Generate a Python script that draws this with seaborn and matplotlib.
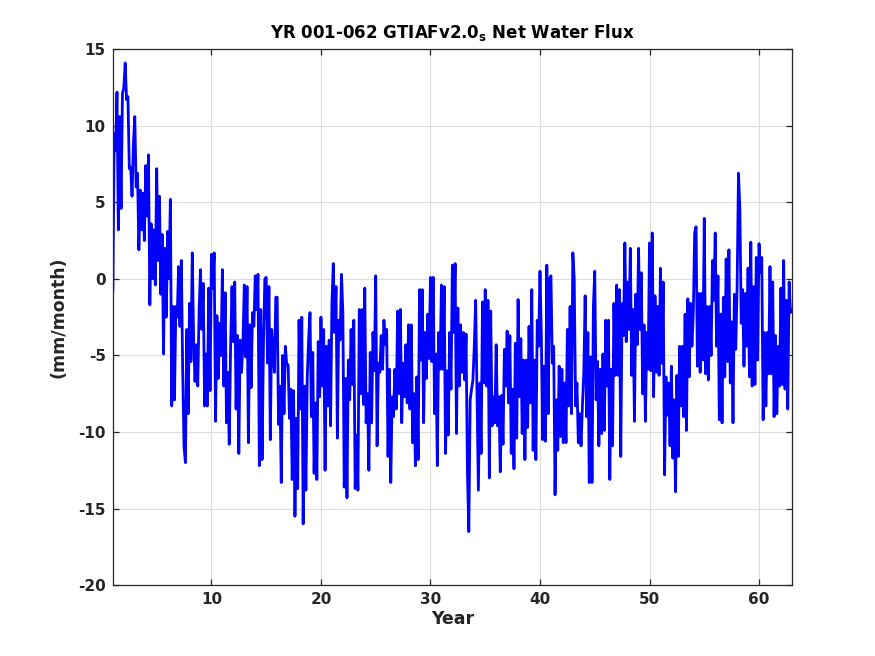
import numpy as np
import pandas as pd
import matplotlib
matplotlib.use("Agg")
import matplotlib.pyplot as plt
import seaborn as sns

# values, 8 samples per year, year 1 .. 63
flux_01_10 = [
    -0.8, 9.5, 8.4, 12.2, 3.2, 10.6, 4.6, 12.1,
    12.5, 14.1, 11.7, 11.9, 7.2, 7.3, 5.4, 8.8,
    10.6, 6.0, 6.9, 1.9, 5.8, 3.2, 5.6, 2.5,
    7.4, 4.1, 8.1, -1.7, 3.6, 0.0, 3.2, -0.4,
    7.2, 1.2, 5.4, -1.0, 2.9, -4.9, 2.0, -2.5,
    3.1, 0.0, 5.2, -8.3, -1.8, -7.9, -1.8, -2.5,
    0.8, -3.1, 1.2, -6.0, -11.0, -12.0, -3.3, -8.8,
    -1.6, -5.4, 1.7, -4.0, -6.7, -4.3, -7.0, -2.0,
    0.6, -3.3, -0.3, -8.3, -4.9, -8.3, -0.6, -7.3,
]
flux_10_20 = [
    1.6, -0.6, 1.7, -9.3, -2.4, -6.5, -2.9, -5.0,
    0.6, -7.0, -0.9, -9.4, -6.1, -10.8, -4.4, -0.5,
    -4.1, -0.2, -8.5, -3.7, -11.4, -4.0, -6.1, -4.2,
    -0.4, -5.1, -0.5, -10.7, -3.0, -7.1, -2.2, -3.1,
    0.2, -2.0, 0.3, -12.2, -2.0, -11.8, -4.2, 0.0,
    0.1, -5.5, -0.5, -10.5, -3.3, -4.8, -6.1, -1.2,
    -1.2, -9.5, -7.0, -13.3, -5.0, -8.8, -4.4, -5.6,
    -5.6, -9.1, -7.2, -13.1, -7.3, -15.5, -9.1, -13.7,
    -2.7, -8.5, -2.5, -16.0, -7.0, -13.8, -6.4, -3.9,
    -2.2, -9.0, -4.8, -12.7, -8.1, -13.1, -4.1, -7.7,
]
flux_20_30 = [
    -2.5, -7.0, -3.3, -12.5, -4.4, -8.3, -4.0, -9.6,
    -1.7, 1.0, -3.5, -0.5, -10.4, -2.7, -4.0, 0.3,
    -2.2, -13.6, -6.5, -14.3, -5.3, -7.9, -3.3, -6.9,
    -2.7, -13.7, -10.2, -13.8, -2.0, -7.5, -2.0, -8.2,
    -0.6, -9.4, -7.5, -12.5, -4.8, -9.4, -3.5, -6.0,
    0.2, -10.9, -5.5, -6.1, -3.7, -5.9, -2.7, -4.3,
    -3.3, -11.6, -5.9, -13.3, -7.7, -9.0, -5.9, -8.5,
    -2.1, -7.5, -2.0, -9.4, -5.5, -7.7, -4.3, -8.1,
    -3.0, -8.5, -3.0, -10.7, -7.5, -12.2, -6.4, -11.8,
    -0.7, -5.3, -0.7, -9.4, -3.5, -6.5, -2.3, -5.2,
]
flux_30_40 = [
    0.1, -5.4, 0.1, -8.8, -4.9, -12.2, -3.5, -5.9,
    -0.4, -5.9, -0.5, -11.4, -6.0, -10.2, -3.5, -7.2,
    0.9, -3.5, 1.0, -10.1, -1.9, -7.0, -3.0, -6.1,
    -3.5, -6.6, -3.6, -12.6, -16.5, -7.9, -7.2, -6.6,
    -4.4, -1.4, -7.5, -13.8, -6.8, -11.4, -1.5, -6.8,
    -0.7, -7.0, -1.4, -13.0, -2.1, -9.6, -7.7, -9.4,
    -4.3, -9.6, -7.7, -12.6, -7.6, -10.8, -4.6, -7.0,
    -3.4, -8.1, -3.7, -11.4, -7.2, -12.4, -4.2, -10.4,
    -1.35, -7.7, -3.9, -10.1, -5.3, -11.8, -5.3, -9.7,
    -3.1, -8.1, -0.7, -11.2, -5.3, -11.8, -2.7, -4.4,
]
flux_40_50 = [
    0.5, -3.7, -10.5, -5.7, -10.6, 0.9, -8.8, 0.0,
    0.2, -5.5, -4.4, -14.1, -7.9, -11.2, -5.7, -10.3,
    -5.9, -10.7, -6.8, -10.7, -3.3, -8.3, -1.8, -8.8,
    1.7, 0.0, -8.3, -6.8, -10.7, -8.8, -10.9, -8.3,
    -6.1, -1.1, -9.0, -3.5, -13.3, -5.1, -13.3, -1.8,
    0.5, -7.9, -5.4, -10.9, -5.9, -10.1, -4.9, -9.9,
    -2.7, -7.0, -2.7, -13.1, -5.9, -10.9, -1.6, -6.3,
    -0.4, -6.3, -0.7, -11.6, -1.6, -3.7, 2.35, -4.1,
    -0.2, -3.3, 2.0, -6.3, -2.0, -9.3, -1.0, -4.3,
    2.0, -3.3, 0.4, -7.5, -3.0, -9.3, -3.5, -5.9,
]
flux_50_63 = [
    2.35, -6.0, 3.0, -7.7, -1.1, -6.1, -1.8, -6.3,
    0.7, -5.5, -0.2, -12.8, -6.4, -8.9, -6.8, -10.9,
    -5.7, -11.7, -7.9, -13.9, -6.3, -11.6, -4.4, -8.3,
    -4.4, -9.0, -2.3, -9.9, -1.3, -6.4, -1.6, -4.4,
    -2.2, 3.0, 3.4, -5.7, -0.95, -6.1, -0.95, -5.3,
    3.95, -6.2, -1.8, -6.6, -1.8, -5.0, 1.2, -1.4,
    3.0, -4.4, 0.2, -9.2, -2.3, -9.4, -1.2, -6.4,
    1.3, -5.4, 1.9, -6.8, -2.8, -9.4, -1.0, -4.6,
    -0.5, 6.9, 4.6, -2.9, -0.7, -5.7, -0.95, -4.4,
    0.7, -6.4, 2.4, -7.0, -0.5, -6.9, 1.4, -5.3,
    2.3, 0.4, 1.4, -9.2, -3.5, -8.3, -3.5, -6.2,
    0.8, -6.2, -0.2, -9.0, -3.7, -8.8, -4.4, -7.0,
    -0.6, -6.9, 1.2, -7.2, -1.4, -8.5, -0.2, -2.2,
    -2.0,
]
samples_per_year = 8
first_year = 1

x_ticks = [10, 20, 30, 40, 50, 60]
y_ticks = [-20, -15, -10, -5, 0, 5, 10, 15]

flux = flux_01_10 + flux_10_20 + flux_20_30 + flux_30_40 + flux_40_50 + flux_50_63
df = pd.DataFrame({
    "year": first_year + np.arange(len(flux)) / samples_per_year,
    "flux": flux,
})

sns.set_theme(style="ticks")
plt.rcParams["font.family"] = ["DejaVu Sans"]
plt.rcParams["axes.unicode_minus"] = False
plt.rcParams["mathtext.default"] = "bf"

fig = plt.figure(figsize=(8.75, 6.56), dpi=100)
ax = fig.add_axes([0.129, 0.108, 0.776, 0.817])

sns.lineplot(data=df, x="year", y="flux", color="#0000ff", linewidth=2.0, ax=ax)

ax.set_xlim(1, 63)
ax.set_ylim(-20, 15)
ax.set_xticks(x_ticks)
ax.set_yticks(y_ticks)
ax.grid(True, color="#dcdcdc", linewidth=0.8)
ax.set_axisbelow(True)
for s in ax.spines.values():
    s.set_color("#262626")
    s.set_linewidth(0.9)
ax.tick_params(direction="in", length=4.5, width=0.9, top=True, right=True,
               colors="#262626", labelsize=11, pad=5)
for lab in ax.get_xticklabels() + ax.get_yticklabels():
    lab.set_fontweight("bold")

ax.set_xlabel("Year", fontsize=12.5, fontweight="bold", color="#262626", labelpad=2)
ax.set_ylabel("(mm/month)", fontsize=12.5, fontweight="bold", color="#262626", labelpad=8)
ax.set_title(r"YR 001-062 GTIAFv2.0$_\mathbf{s}$ Net Water Flux",
             fontsize=12, fontweight="bold", color="black", pad=8)

fig.savefig("out.png", dpi=100)
